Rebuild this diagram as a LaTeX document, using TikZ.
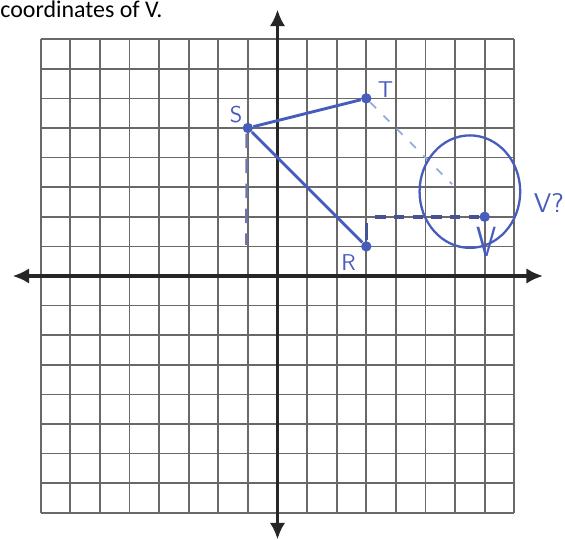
\documentclass[tikz,border=0pt]{standalone}
\usepackage{fontspec}
\setmainfont{Carlito}
\usetikzlibrary{arrows.meta}
\definecolor{pen}{RGB}{72,92,188}
\definecolor{penfaint}{RGB}{150,170,220}
\definecolor{gridc}{RGB}{105,105,105}
\definecolor{dashc}{RGB}{70,82,150}
\definecolor{dashl}{RGB}{110,118,165}
\tikzset{
  gridline/.style={draw=gridc, line width=0.8pt},
  axisline/.style={draw=black!85, line width=1.8pt, {Latex[length=8pt,width=7.5pt]}-{Latex[length=8pt,width=7.5pt]}},
  seg/.style={draw=pen, line width=1.4pt},
  guide/.style={draw=dashc, line width=1.7pt, dash pattern=on 5pt off 4pt},
  lightguide/.style={draw=dashl, line width=1.2pt, dash pattern=on 7pt off 5pt},
  faintguide/.style={draw=penfaint, line width=0.8pt, dash pattern=on 4pt off 5pt},
  ptdot/.style={circle, fill=pen, inner sep=0pt, minimum size=5pt},
  hand/.style={text=pen, font=\sffamily\fontsize{11}{12}\selectfont, inner sep=0pt},
  ring/.style={draw=pen, line width=1.1pt}
}
\begin{document}
\begin{tikzpicture}[x=0.5cm,y=0.5cm]
\useasboundingbox (-9.375,-8.919) rectangle (9.713,9.324);
% title
\node[anchor=base west, inner sep=0pt, font=\fontsize{11.5}{13}\selectfont] (title) at (-9.375,8.716) {coordinates of V.};
% grid
\draw[gridline, step=0.5cm] (-8,-8) grid (8,8);
% axes
\coordinate (xl) at (-8.95,0);
\coordinate (xr) at (8.97,0);
\coordinate (yt) at (0,9.0);
\coordinate (yb) at (0,-8.9);
\draw[axisline] (xl) -- (xr);
\draw[axisline] (yb) -- (yt);
% points
\node[ptdot] (S) at (-1,5) {};
\node[ptdot] (T) at (3,6) {};
\node[ptdot] (R) at (3,1) {};
\node[ptdot] (V) at (7,2) {};
% guides
\coordinate (Sfoot) at (-1.05,1.05);
\coordinate (Rup1) at (3,1.2);
\coordinate (Rup2) at (3,1.8);
\coordinate (Rv) at (3.3,2);
\coordinate (Tend) at (5.9,3.1);
\draw[lightguide] ([xshift=-0.6pt]S.south) -- (Sfoot);
\draw[draw=dashc, line width=1.6pt] (Rup1) -- (Rup2);
\draw[guide] (Rv) -- (V);
\draw[faintguide] (T) -- (Tend);
% triangle sides
\draw[seg] (S) -- (T);
\draw[seg] (S) -- (R);
% circle round V
\draw[ring] (6.5,2.85) ellipse [x radius=1.7, y radius=1.9];
% labels
\node[hand] (lS) at (-1.4,5.45) {S};
\node[hand] (lT) at (3.65,6.3) {T};
\node[hand] (lR) at (2.4,0.45) {R};
\node[hand, font=\sffamily\fontsize{15}{16}\selectfont, yscale=1.35] (lV) at (7.05,1.15) {V};
\node[hand, anchor=west, font=\sffamily\fontsize{13}{14}\selectfont] (lVq) at (8.65,2.45) {V?};
\end{tikzpicture}
\end{document}
